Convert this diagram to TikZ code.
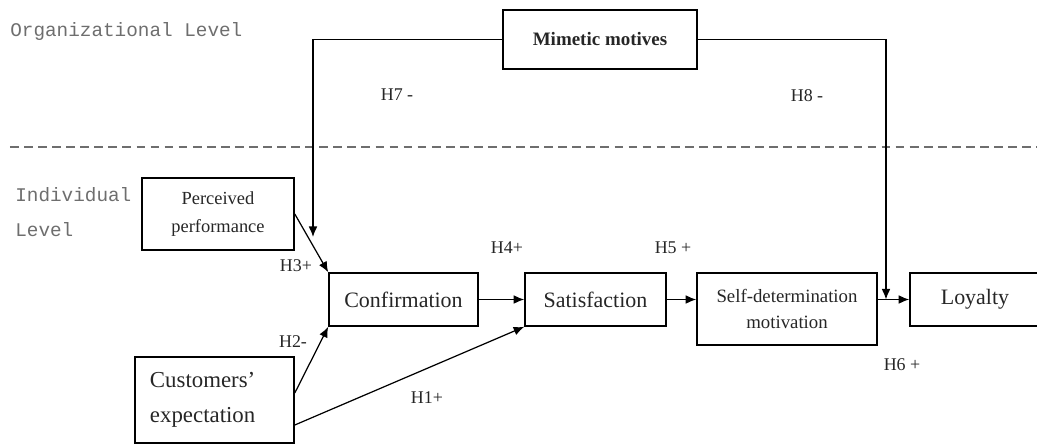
\documentclass[tikz,border=0pt]{standalone}
\usepackage{fontspec}
\setmainfont{Liberation Serif}
\setmonofont{Liberation Mono}
\usetikzlibrary{arrows.meta,calc}
\definecolor{ink}{HTML}{262626}
\definecolor{lvl}{HTML}{6E6E6E}

\begin{document}
\begin{tikzpicture}[>={Latex[length=6pt,width=5pt]},
  box/.style={draw,line width=0.9pt,text=ink,minimum height=1.06cm,inner sep=2pt},
  hyp/.style={font=\fontsize{10.2}{12}\selectfont,text=ink},
  lvltext/.style={inner sep=0pt,text=lvl,font=\ttfamily\fontsize{11}{20}\selectfont},
  link/.style={->,line width=0.7pt}]
  \useasboundingbox (0,0) rectangle (20.74,-8.88);
  \node[lvltext,anchor=west] (org) at (0.2,-0.62) {Organizational Level};
  \node[lvltext,anchor=west,align=left] (ind) at (0.3,-4.25) {Individual\\Level};
  \draw[lvl,line width=0.8pt,dash pattern=on 5pt off 3pt] (0.2,-2.94) -- (20.74,-2.94);
  % boxes
  \node[box,minimum width=3.88cm,minimum height=1.18cm,font=\bfseries\fontsize{10.8}{13}\selectfont] (mim) at (12.0,-0.79) {Mimetic motives};
  \node[box,minimum width=3.04cm,minimum height=1.44cm,align=center,font=\fontsize{10.5}{16}\selectfont] (perc) at (4.36,-4.28) {Perceived\\performance};
  \node[box,text width=2.58cm,inner xsep=0.3cm,minimum height=1.72cm,align=left,font=\fontsize{13}{20}\selectfont] (cust) at (4.29,-8.0) {Customers'\\expectation};
  \node[box,minimum width=2.98cm,font=\fontsize{12.5}{15}\selectfont] (conf) at (8.07,-5.99) {Confirmation};
  \node[box,minimum width=2.82cm,font=\fontsize{12.5}{15}\selectfont] (sat) at (11.91,-5.99) {Satisfaction};
  \node[box,minimum width=3.6cm,minimum height=1.44cm,align=center,font=\fontsize{10.7}{15}\selectfont] (self) at (15.74,-6.18) {Self-determination\\motivation};
  \node[box,minimum width=2.6cm,font=\fontsize{12.5}{15}\selectfont] (loy) at (19.5,-5.99) {Loyalty};
  % arrows
  \coordinate (h7end) at (6.26,-4.74);
  \coordinate (h8end) at (17.72,-5.99);
  \draw[link] (mim.west) -| (h7end);
  \draw[link] (mim.east) -| (h8end);
  \draw[link] (perc.east) -- (conf.north west);
  \draw[link] ($(cust.east)+(0,0.14)$) -- (conf.south west);
  \draw[link] ($(cust.east)+(0,-0.5)$) -- (sat.south west);
  \draw[link] (conf) -- (sat);
  \draw[link] (sat.east) -- (sat.east -| self.west);
  \draw[link] (self.east |- loy.west) -- (loy.west);
  % hypotheses
  \node[hyp] (h1) at (8.54,-7.96) {H1+};
  \node[hyp] (h2) at (5.86,-6.84) {H2-};
  \node[hyp] (h3) at (5.92,-5.32) {H3+};
  \node[hyp] (h4) at (10.14,-4.96) {H4+};
  \node[hyp] (h5) at (13.46,-4.96) {H5 +};
  \node[hyp] (h6) at (18.04,-7.3) {H6 +};
  \node[hyp] (h7) at (7.94,-1.9) {H7 -};
  \node[hyp] (h8) at (16.14,-1.92) {H8 -};
\end{tikzpicture}
\end{document}
